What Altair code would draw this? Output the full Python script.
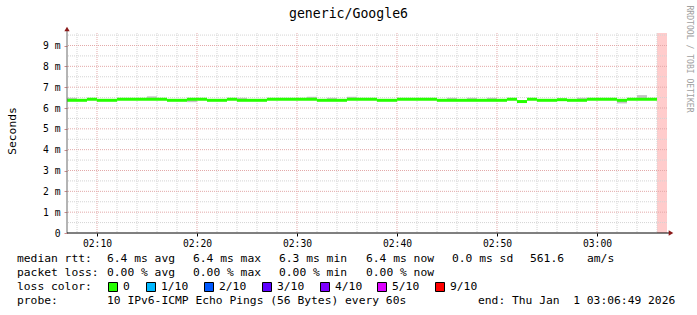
import altair as alt
import pandas as pd

# ---------------- data ----------------
title_text = "generic/Google6"
start_time = "2026-01-01T02:07:00"
end_time = "2026-01-01T03:07:00"
n_bins = 59

median_ms = [6.37, 6.37, 6.42, 6.37, 6.37, 6.42, 6.42, 6.42, 6.42, 6.42,
             6.37, 6.37, 6.42, 6.42, 6.37, 6.37, 6.42, 6.37, 6.37, 6.37,
             6.42, 6.42, 6.42, 6.42, 6.42, 6.37, 6.37, 6.37, 6.42, 6.42,
             6.42, 6.37, 6.37, 6.42, 6.42, 6.42, 6.42, 6.37, 6.37, 6.37,
             6.37, 6.37, 6.37, 6.37, 6.42, 6.31, 6.42, 6.37, 6.37, 6.40,
             6.37, 6.37, 6.42, 6.42, 6.42, 6.37, 6.42, 6.42, 6.42]
smoke_hi = [6.49, 6.40, 6.45, 6.40, 6.40, 6.45, 6.45, 6.45, 6.56, 6.45,
            6.40, 6.40, 6.45, 6.45, 6.40, 6.40, 6.45, 6.49, 6.40, 6.40,
            6.45, 6.45, 6.45, 6.45, 6.54, 6.40, 6.49, 6.40, 6.54, 6.45,
            6.45, 6.40, 6.40, 6.45, 6.45, 6.45, 6.45, 6.40, 6.49, 6.40,
            6.49, 6.40, 6.49, 6.40, 6.45, 6.34, 6.45, 6.40, 6.40, 6.43,
            6.40, 6.49, 6.45, 6.45, 6.45, 6.40, 6.45, 6.62, 6.45]
smoke_lo = [6.34, 6.34, 6.39, 6.34, 6.34, 6.39, 6.39, 6.39, 6.39, 6.39,
            6.34, 6.34, 6.28, 6.39, 6.34, 6.34, 6.39, 6.34, 6.34, 6.34,
            6.39, 6.39, 6.39, 6.39, 6.39, 6.34, 6.34, 6.34, 6.39, 6.39,
            6.39, 6.34, 6.34, 6.39, 6.39, 6.39, 6.39, 6.34, 6.34, 6.34,
            6.34, 6.34, 6.34, 6.34, 6.39, 6.28, 6.39, 6.34, 6.34, 6.37,
            6.34, 6.34, 6.39, 6.39, 6.39, 6.22, 6.39, 6.39, 6.39]
loss_level = ["0"] * n_bins
nodata_start = "2026-01-01T03:06:00"
nodata_end = "2026-01-01T03:07:00"

loss_labels = ["0", "1/10", "2/10", "3/10", "4/10", "5/10", "9/10"]
loss_colors = ["#26ff00", "#00b8ff", "#0059ff", "#5e00ff", "#7e00ff", "#dd00ff", "#ff0000"]

y_major = [0, 1, 2, 3, 4, 5, 6, 7, 8, 9]
y_minor = [0.5, 1.5, 2.5, 3.5, 4.5, 5.5, 6.5, 7.5, 8.5, 9.5]
x_major_labels = ["02:10", "02:20", "02:30", "02:40", "02:50", "03:00"]
x_minor_labels = ["02:08", "02:12", "02:14", "02:16", "02:18", "02:22", "02:24", "02:26", "02:28",
                  "02:32", "02:34", "02:36", "02:38", "02:42", "02:44", "02:46", "02:48",
                  "02:52", "02:54", "02:56", "02:58", "03:02", "03:04", "03:06"]

legend_rtt = ["median rtt:", "6.4 ms avg", "6.4 ms max", "6.3 ms min", "6.4 ms now", "0.0 ms sd", "561.6", "am/s"]
legend_loss = ["packet loss:", "0.00 % avg", "0.00 % max", "0.00 % min", "0.00 % now"]
legend_color_title = "loss color:"
legend_probe = ["probe:", "10 IPv6-ICMP Echo Pings (56 Bytes) every 60s", "end: Thu Jan\u00a0\u00a01 03:06:49 2026"]
y_title = "Seconds"
watermark = "RRDTOOL / TOBI OETIKER"

# ---------------- tables ----------------
times = pd.date_range(start_time, periods=n_bins, freq="min")
df = pd.DataFrame({
    "t": times.strftime("%Y-%m-%dT%H:%M:%S"),
    "t2": (times + pd.Timedelta(minutes=1)).strftime("%Y-%m-%dT%H:%M:%S"),
    "median": median_ms,
    "lo": smoke_lo,
    "hi": smoke_hi,
    "loss": loss_level,
})

def ts(hm):
    return "2026-01-01T" + hm + ":00"

def dt(hm):
    h, m = hm.split(":")
    return alt.DateTime(year=2026, month=1, date=1, hours=int(h), minutes=int(m))

FONT = "DejaVu Sans Mono"
W, H = 600, 200

x_scale = alt.Scale(domain=[alt.DateTime(year=2026, month=1, date=1, hours=2, minutes=7),
                            alt.DateTime(year=2026, month=1, date=1, hours=3, minutes=7)])
y_scale = alt.Scale(domain=[0, 9.6], nice=False, zero=False)

x_axis = alt.Axis(values=[dt(v) for v in x_major_labels], format="%H:%M", title=None,
                  domain=False, ticks=True, tickSize=3, tickColor="#000000", labelPadding=2,
                  labelFont=FONT, labelFontSize=9.7, labelColor="#000000", grid=False)
y_axis = alt.Axis(values=y_major, title=None, domain=False, ticks=True, tickSize=3,
                  tickColor="#d08a8a", labelPadding=4, grid=False,
                  labelExpr="datum.value == 0 ? '0' : datum.value + ' m'",
                  labelFont=FONT, labelFontSize=9.7, labelColor="#000000")

one = alt.Data(values=[{}])

# no-data band
nodata = alt.Chart(alt.Data(values=[{"a": nodata_start, "b": nodata_end}])).mark_rect(
    color="#ffcccc").encode(
    x=alt.X("a:T", scale=x_scale, axis=x_axis), x2="b:T",
    y=alt.value(0), y2=alt.value(H))

# grid
g_y_minor = alt.Chart(pd.DataFrame({"v": y_minor})).mark_rule(
    color="#d4d4d4", strokeDash=[1, 1], strokeWidth=1).encode(
    y=alt.Y("v:Q", scale=y_scale, axis=y_axis))
g_x_minor = alt.Chart(pd.DataFrame({"v": [ts(v) for v in x_minor_labels]})).mark_rule(
    color="#d4d4d4", strokeDash=[1, 1], strokeWidth=1).encode(
    x=alt.X("v:T", scale=x_scale, axis=x_axis))
g_y_major = alt.Chart(pd.DataFrame({"v": y_major[1:]})).mark_rule(
    color="#e3a9a9", strokeDash=[1, 1], strokeWidth=1).encode(
    y=alt.Y("v:Q", scale=y_scale, axis=y_axis))
g_x_major = alt.Chart(pd.DataFrame({"v": [ts(v) for v in x_major_labels]})).mark_rule(
    color="#e3a9a9", strokeDash=[1, 1], strokeWidth=1).encode(
    x=alt.X("v:T", scale=x_scale, axis=x_axis))

# smoke
smoke = alt.Chart(df).mark_rect(color="#c4c4c4").encode(
    x=alt.X("t:T", scale=x_scale, axis=x_axis), x2="t2:T",
    y=alt.Y("lo:Q", scale=y_scale, axis=y_axis), y2="hi:Q")

# median line
med = alt.Chart(df).mark_rule(strokeWidth=3, strokeCap="butt").encode(
    x=alt.X("t:T", scale=x_scale, axis=x_axis), x2="t2:T",
    y=alt.Y("median:Q", scale=y_scale, axis=y_axis),
    color=alt.Color("loss:N", scale=alt.Scale(domain=loss_labels, range=loss_colors), legend=None))

# axis lines and arrows
axis_y_line = alt.Chart(one).mark_rule(color="#6a6a6a", strokeWidth=1).encode(
    x=alt.value(0), y=alt.value(-4), y2=alt.value(H))
axis_x_line = alt.Chart(one).mark_rule(color="#000000", strokeWidth=1).encode(
    x=alt.value(0), x2=alt.value(W + 4), y=alt.value(H))
arrow_up = alt.Chart(one).mark_point(shape="triangle-up", filled=True, color="#8b1a1a",
                                     size=28, opacity=1).encode(x=alt.value(0), y=alt.value(-4))
arrow_right = alt.Chart(one).mark_point(shape="triangle-right", filled=True, color="#8b1a1a",
                                        size=28, opacity=1).encode(x=alt.value(W + 4), y=alt.value(H))

def text(s, x, y, size=11.3, align="left", angle=0, color="#000000", font=FONT):
    return alt.Chart(one).mark_text(text=s, align=align, baseline="middle", font=font,
                                    fontSize=size, angle=angle, color=color).encode(
        x=alt.value(x), y=alt.value(y))

L = -67   # left edge of canvas relative to plot
T = -33   # top edge of canvas relative to plot

texts = [text(title_text, 348.5 + L, 14 + T, size=13.2, align="center"),
         text(y_title, 12.5 + L, 131 + T, size=11.3, align="center", angle=270),
         text(watermark, 689 + L, 59 + T, size=8.1, align="center", angle=90, color="#a0a0a0")]

rtt_x = [17, 107, 193, 279, 366, 452, 530, 587]
for s, x in zip(legend_rtt, rtt_x):
    texts.append(text(s, x + L, 259 + T))
loss_x = [17, 107, 193, 279, 366]
for s, x in zip(legend_loss, loss_x):
    texts.append(text(s, x + L, 273 + T))
texts.append(text(legend_color_title, 17 + L, 287 + T))
box_x = [108, 146, 204, 262, 320, 377, 435]
boxes = []
for s, c, x in zip(loss_labels, loss_colors, box_x):
    boxes.append(alt.Chart(one).mark_rect(fill=c, stroke="#000000", strokeWidth=1).encode(
        x=alt.value(x + L + 0.5), x2=alt.value(x + L + 9.5),
        y=alt.value(282.5 + T), y2=alt.value(291.5 + T)))
    texts.append(text(s, x + 15 + L, 287 + T))
probe_x = [17, 107, 478]
for s, x in zip(legend_probe, probe_x):
    texts.append(text(s, x + L, 301 + T))

chart = alt.layer(
    nodata, g_y_minor, g_x_minor, g_y_major, g_x_major, smoke, med,
    axis_y_line, axis_x_line, arrow_up, arrow_right, *boxes, *texts
).properties(
    width=W, height=H, autosize="none",
    padding={"left": 67, "top": 33, "right": 30, "bottom": 82},
    background="#ffffff"
).configure_view(stroke=None)

chart.save("out.html", embed_options={"renderer": "svg", "actions": False})
